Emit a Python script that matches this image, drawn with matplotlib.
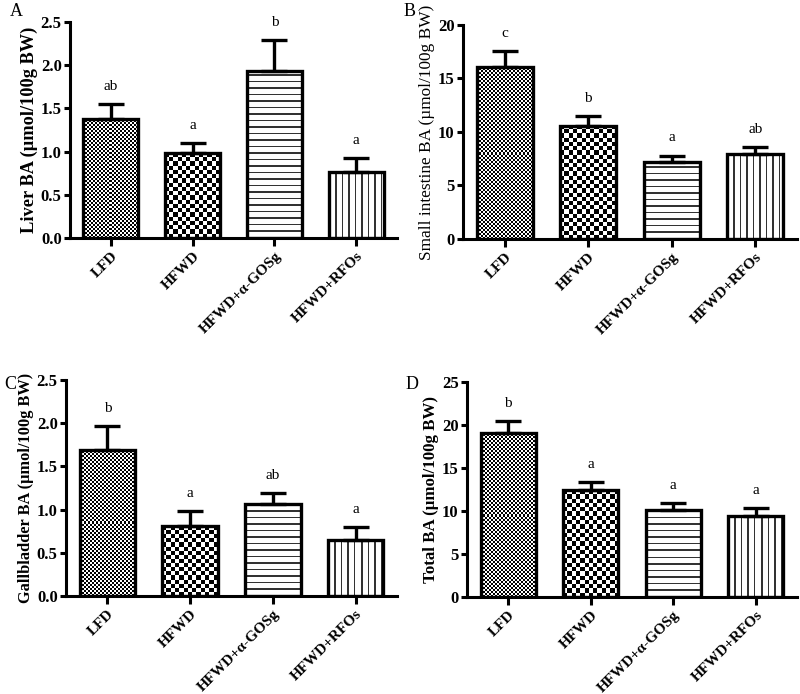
import numpy as np
import matplotlib
matplotlib.use("Agg")
import matplotlib.pyplot as plt

plt.rcParams["font.family"] = ["Liberation Serif", "DejaVu Serif"]

GROUPS = ["LFD", "HFWD", "HFWD+α-GOSg", "HFWD+RFOs"]

LIVER_MEAN = [1.38, 0.98, 1.93, 0.76]
LIVER_SEM = [0.17, 0.12, 0.36, 0.17]
LIVER_SIG = ["ab", "a", "b", "a"]

INTESTINE_MEAN = [16.1, 10.6, 7.15, 7.95]
INTESTINE_SEM = [1.5, 0.85, 0.65, 0.65]
INTESTINE_SIG = ["c", "b", "a", "ab"]

GALL_MEAN = [1.69, 0.81, 1.06, 0.645]
GALL_SEM = [0.28, 0.17, 0.13, 0.155]
GALL_SIG = ["b", "a", "ab", "a"]

TOTAL_MEAN = [19.1, 12.4, 10.15, 9.45]
TOTAL_SEM = [1.4, 0.95, 0.8, 0.9]
TOTAL_SIG = ["b", "a", "a", "a"]

DPI = 100


def _bar_pixels(ax, bar):
    x0, y0 = bar.get_x(), bar.get_y()
    x1, y1 = x0 + bar.get_width(), y0 + bar.get_height()
    p0 = ax.transData.transform((x0, y0))
    p1 = ax.transData.transform((x1, y1))
    return (x0, x1, y0, y1), abs(p1[0] - p0[0]), abs(p1[1] - p0[1])


def _fill(ax, bar, board):
    extent = _bar_pixels(ax, bar)[0]
    im = ax.imshow(board, cmap="gray", extent=extent, aspect="auto",
                   interpolation="nearest", zorder=1, vmin=0, vmax=1)
    im.set_clip_path(bar)


def _checker(ax, bar, cell_px):
    # black/white checkerboard clipped to the bar
    _, wpx, hpx = _bar_pixels(ax, bar)
    ncol = max(1, int(round(wpx / cell_px)))
    nrow = max(1, int(round(hpx / cell_px)))
    _fill(ax, bar, (np.add.outer(np.arange(nrow), np.arange(ncol)) % 2).astype(float))


def _stripes(ax, bar, period_px, vertical):
    _, wpx, hpx = _bar_pixels(ax, bar)
    n = int(round(wpx if vertical else hpx))
    pos = np.arange(n) + 0.5
    line = np.where((pos % period_px) < 1.4, 0.2, 1.0)
    if vertical:
        board = np.tile(line, (int(round(hpx)), 1))
    else:
        board = np.tile(line[::-1, None], (1, int(round(wpx))))
    _fill(ax, bar, board)


def draw_panel(fig, rect, means, sems, sigs, ymax, ystep, yfmt, ylabel, label_size, label_weight,
               letter, letter_xy):
    ax = fig.add_axes(rect)
    x = np.arange(len(GROUPS))
    ax.set_xlim(-0.5, len(GROUPS) - 0.5)
    ax.set_ylim(0, ymax)
    bars = ax.bar(x, means, width=0.67, facecolor="none", edgecolor="black", linewidth=2.4, zorder=2)
    _checker(ax, bars[0], 2.0)
    _checker(ax, bars[1], 4.2)
    _stripes(ax, bars[2], 6.5, vertical=False)
    _stripes(ax, bars[3], 6.5, vertical=True)
    ax.set_xlim(-0.5, len(GROUPS) - 0.5)
    ax.set_ylim(0, ymax)
    ax.errorbar(x, means, yerr=[[0] * len(x), sems], fmt="none", ecolor="black",
                elinewidth=2.4, capsize=9.5, capthick=2.4, zorder=1.5)
    for xi, m, s, t in zip(x, means, sems, sigs):
        ax.annotate(t, (xi, m + s), xytext=(0, 8), textcoords="offset points",
                    ha="center", va="bottom", fontsize=11)

    yt = np.arange(0, ymax + ystep / 2, ystep)
    ax.set_yticks(yt)
    ax.set_yticklabels([yfmt.format(v) for v in yt], fontweight="bold", fontsize=12)
    ax.set_xticks(x)
    ax.set_xticklabels(GROUPS, rotation=45, ha="right", rotation_mode="anchor",
                       fontweight="bold", fontsize=11)
    ax.set_ylabel(ylabel, fontweight=label_weight, fontsize=label_size, labelpad=2)
    for side in ["top", "right"]:
        ax.spines[side].set_visible(False)
    for side in ["left", "bottom"]:
        ax.spines[side].set_linewidth(2.2)
    ax.tick_params(axis="both", width=2.2, length=4, direction="out", pad=2)
    ax.tick_params(axis="x", length=6)
    fig.text(letter_xy[0], letter_xy[1], letter, fontsize=13, ha="left", va="center")
    return ax


fig = plt.figure(figsize=(8.0, 6.94), dpi=DPI)
W, H = 800.0, 694.0


def rect(left, right, top, bottom):
    return [left / W, 1 - bottom / H, (right - left) / W, (bottom - top) / H]


draw_panel(fig, rect(70, 397, 22, 238), LIVER_MEAN, LIVER_SEM, LIVER_SIG, 2.5, 0.5, "{:.1f}",
           "Liver BA (µmol/100g BW)", 13.2, "bold", "A", (10 / W, 1 - 12 / H))
draw_panel(fig, rect(463, 797, 25, 239), INTESTINE_MEAN, INTESTINE_SEM, INTESTINE_SIG, 20, 5, "{:.0f}",
           "Small intestine BA (µmol/100g BW)", 12.4, "normal", "B", (404 / W, 1 - 12 / H))
draw_panel(fig, rect(66, 397, 380, 596), GALL_MEAN, GALL_SEM, GALL_SIG, 2.5, 0.5, "{:.1f}",
           "Gallbladder BA (µmol/100g BW)", 11.8, "bold", "C", (4 / W, 1 - 384 / H))
draw_panel(fig, rect(467, 797, 382, 597), TOTAL_MEAN, TOTAL_SEM, TOTAL_SIG, 25, 5, "{:.0f}",
           "Total BA (µmol/100g BW)", 12.2, "bold", "D", (406 / W, 1 - 384 / H))

fig.savefig("out.png", dpi=DPI)
